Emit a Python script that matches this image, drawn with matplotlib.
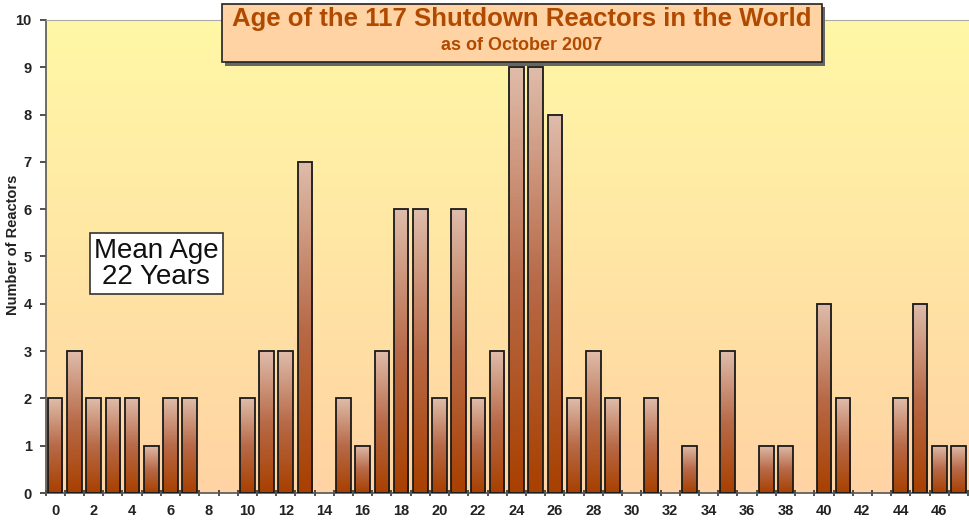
import numpy as np
import matplotlib.pyplot as plt
from matplotlib.colors import LinearSegmentedColormap
from matplotlib.patches import FancyBboxPatch

plt.rcParams['font.family'] = ['Liberation Sans', 'DejaVu Sans']

# age in years vs number of shutdown reactors
ages = list(range(48))
counts = [2, 3, 2, 2, 2, 1, 2, 2, 0, 0,
          2, 3, 3, 7, 0, 2, 1, 3, 6, 6,
          2, 6, 2, 3, 9, 9, 8, 2, 3, 2,
          0, 2, 0, 1, 0, 3, 0, 1, 1, 0,
          4, 2, 0, 0, 2, 4, 1, 1]
tick_labels = [str(a) for a in range(0, 48, 2)]

fig = plt.figure(figsize=(9.69, 5.24), dpi=100)
ax = fig.add_axes([0.047, 0.059, 0.952, 0.903])

ax.set_xlim(-0.5, len(ages) - 0.5)
ax.set_ylim(0, 10)

# plot area gradient background (yellow at top, peach at bottom)
bg = LinearSegmentedColormap.from_list('bg', ['#ffd3a3', '#fff8a6'])
ax.imshow(np.linspace(0, 1, 256).reshape(-1, 1), cmap=bg, origin='lower',
          extent=[-0.5, len(ages) - 0.5, 0, 10], aspect='auto', zorder=0)

# bars with vertical gradient
bar_cmap = LinearSegmentedColormap.from_list('bar', ['#a84000', '#b86a48', '#dfbcaa'])
w = 0.76
grad = np.linspace(0, 1, 128).reshape(-1, 1)
for a, c in zip(ages, counts):
    if c == 0:
        continue
    ax.imshow(grad, cmap=bar_cmap, origin='lower', aspect='auto',
              extent=[a - w / 2, a + w / 2, 0, c], zorder=2)
    ax.bar(a, c, width=w, facecolor='none', edgecolor='#1a1a1a', linewidth=1.3, zorder=3)

ax.set_yticks(range(0, 11))
ax.set_xticks(range(0, 48, 2))
ax.set_xticklabels(tick_labels)
ax.set_xticks(np.arange(-0.5, 48, 1), minor=True)
ax.tick_params(axis='x', which='major', length=0, pad=8)
ax.tick_params(axis='x', which='minor', length=5, width=1.2, direction='inout', color='#333333')
ax.tick_params(axis='y', length=4, width=1.2, color='#333333', pad=6)
for lbl in ax.get_xticklabels() + ax.get_yticklabels():
    lbl.set_fontweight('bold')
    lbl.set_fontsize(10.5)
    lbl.set_color('#222222')

ax.spines['left'].set_color('#555555')
ax.spines['bottom'].set_color('#555555')
ax.spines['left'].set_linewidth(1.2)
ax.spines['bottom'].set_linewidth(1.2)
ax.spines['top'].set_color('#aaaaaa')
ax.spines['right'].set_visible(False)

fig.text(0.013, 0.532, 'Number of Reactors', rotation=90, ha='center', va='center',
         fontsize=10.5, fontweight='bold', color='#222222')

# title box with shadow
shadow = FancyBboxPatch((0.232, 0.875), 0.619, 0.112, boxstyle='square,pad=0',
                        transform=fig.transFigure, facecolor='#666666', edgecolor='none', zorder=5)
box = FancyBboxPatch((0.229, 0.881), 0.619, 0.112, boxstyle='square,pad=0',
                     transform=fig.transFigure, facecolor='#ffd3a3', edgecolor='#222222',
                     linewidth=1.2, zorder=6)
fig.patches.extend([shadow, box])
fig.text(0.538, 0.963, 'Age of the 117 Shutdown Reactors in the World', ha='center', va='center',
         fontsize=18.5, fontweight='bold', color='#b04a00', zorder=7)
fig.text(0.538, 0.914, 'as of October 2007', ha='center', va='center',
         fontsize=13, fontweight='bold', color='#b04a00', zorder=7)

# mean age annotation
ax.text(5.27, 4.85, 'Mean Age\n22 Years', ha='center', va='center', fontsize=20,
        linespacing=1.0, color='#111111', zorder=8,
        bbox=dict(boxstyle='square,pad=0.15', facecolor='white', edgecolor='#333333', linewidth=1.2))

fig.savefig('out.png', dpi=100)
